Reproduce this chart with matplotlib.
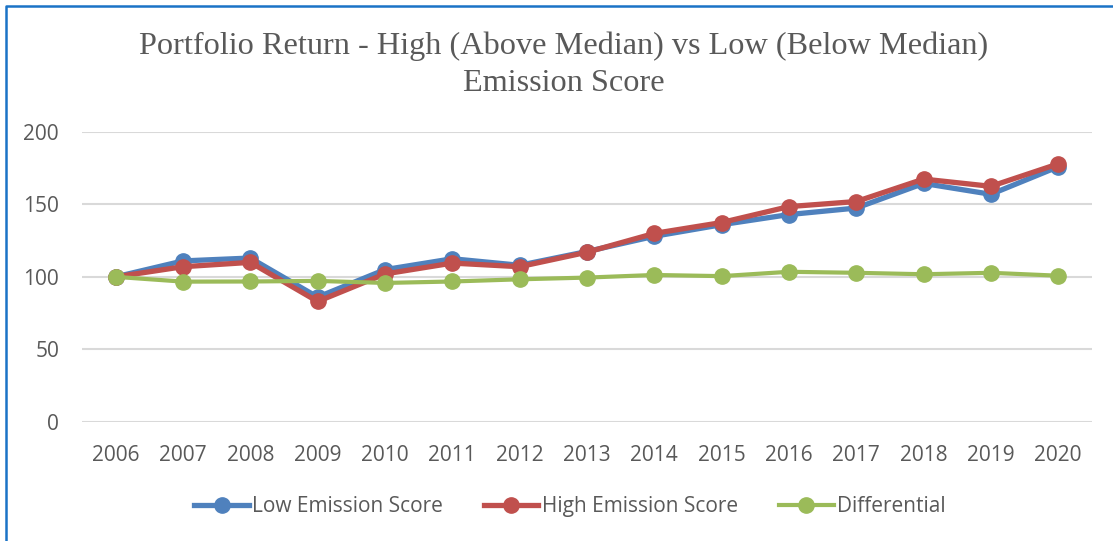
import matplotlib.pyplot as plt
from matplotlib.lines import Line2D
import numpy as np

years = ['2006', '2007', '2008', '2009', '2010', '2011', '2012', '2013',
         '2014', '2015', '2016', '2017', '2018', '2019', '2020']
low_emission = [100, 111, 113, 86, 105, 112.5, 108, 117.5,
                128, 136, 143, 147.5, 164.5, 157, 176]
high_emission = [100, 107, 110, 83, 102, 109.5, 107, 117,
                 130, 137.5, 148.5, 152, 167.5, 162.5, 178]
differential = [100, 96.7, 96.8, 97.2, 95.8, 96.8, 98.3, 99.5,
                101.3, 100.5, 103.5, 102.8, 101.8, 102.8, 100.8]

text_color = '#595959'

fig = plt.figure(figsize=(11.13, 5.41), dpi=100)
ax = fig.add_axes([0.0737, 0.2205, 0.9073, 0.5355])

x = np.arange(len(years))
ax.plot(x, low_emission, color='#4F81BD', lw=3.8, marker='o', ms=11,
        label='Low Emission Score', zorder=3)
ax.plot(x, high_emission, color='#C0504D', lw=3.8, marker='o', ms=11,
        label='High Emission Score', zorder=4)
ax.plot(x, differential, color='#9BBB59', lw=3.0, marker='o', ms=11,
        label='Differential', zorder=5)

ax.set_xlim(-0.5, len(years) - 0.5)
ax.set_ylim(0, 200)
ax.set_yticks([0, 50, 100, 150, 200])
ax.set_xticks(x)
ax.set_xticklabels(years)
ax.grid(axis='y', color='#D9D9D9', lw=1.5)
ax.set_axisbelow(True)
for s in ax.spines.values():
    s.set_visible(False)
ax.tick_params(length=0, labelsize=15, labelcolor=text_color)
ax.tick_params(axis='y', pad=16.5)
ax.tick_params(axis='x', pad=16.5)
for lbl in ax.get_xticklabels() + ax.get_yticklabels():
    lbl.set_family('Open Sans')

fig.text(0.5066, 0.914, 'Portfolio Return - High (Above Median) vs Low (Below Median)',
         ha='center', va='center', fontsize=23.2, family='Liberation Serif', color=text_color)
fig.text(0.5066, 0.845, 'Emission Score', ha='center', va='center',
         fontsize=23.2, family='Liberation Serif', color=text_color)

leg = fig.legend(loc='center', bbox_to_anchor=(0.512, 0.064), ncol=3, frameon=False,
                 prop={'family': 'Open Sans', 'size': 15}, handlelength=2.6,
                 handletextpad=0.15, columnspacing=2.0, labelcolor=text_color)

# blue frame on left and top
fig.add_artist(Line2D([6 / 1113, 6 / 1113, 1], [0, 1 - 6 / 541, 1 - 6 / 541],
                      transform=fig.transFigure, color='#1A73C6', lw=1.8))

fig.savefig('out.png', dpi=100)
